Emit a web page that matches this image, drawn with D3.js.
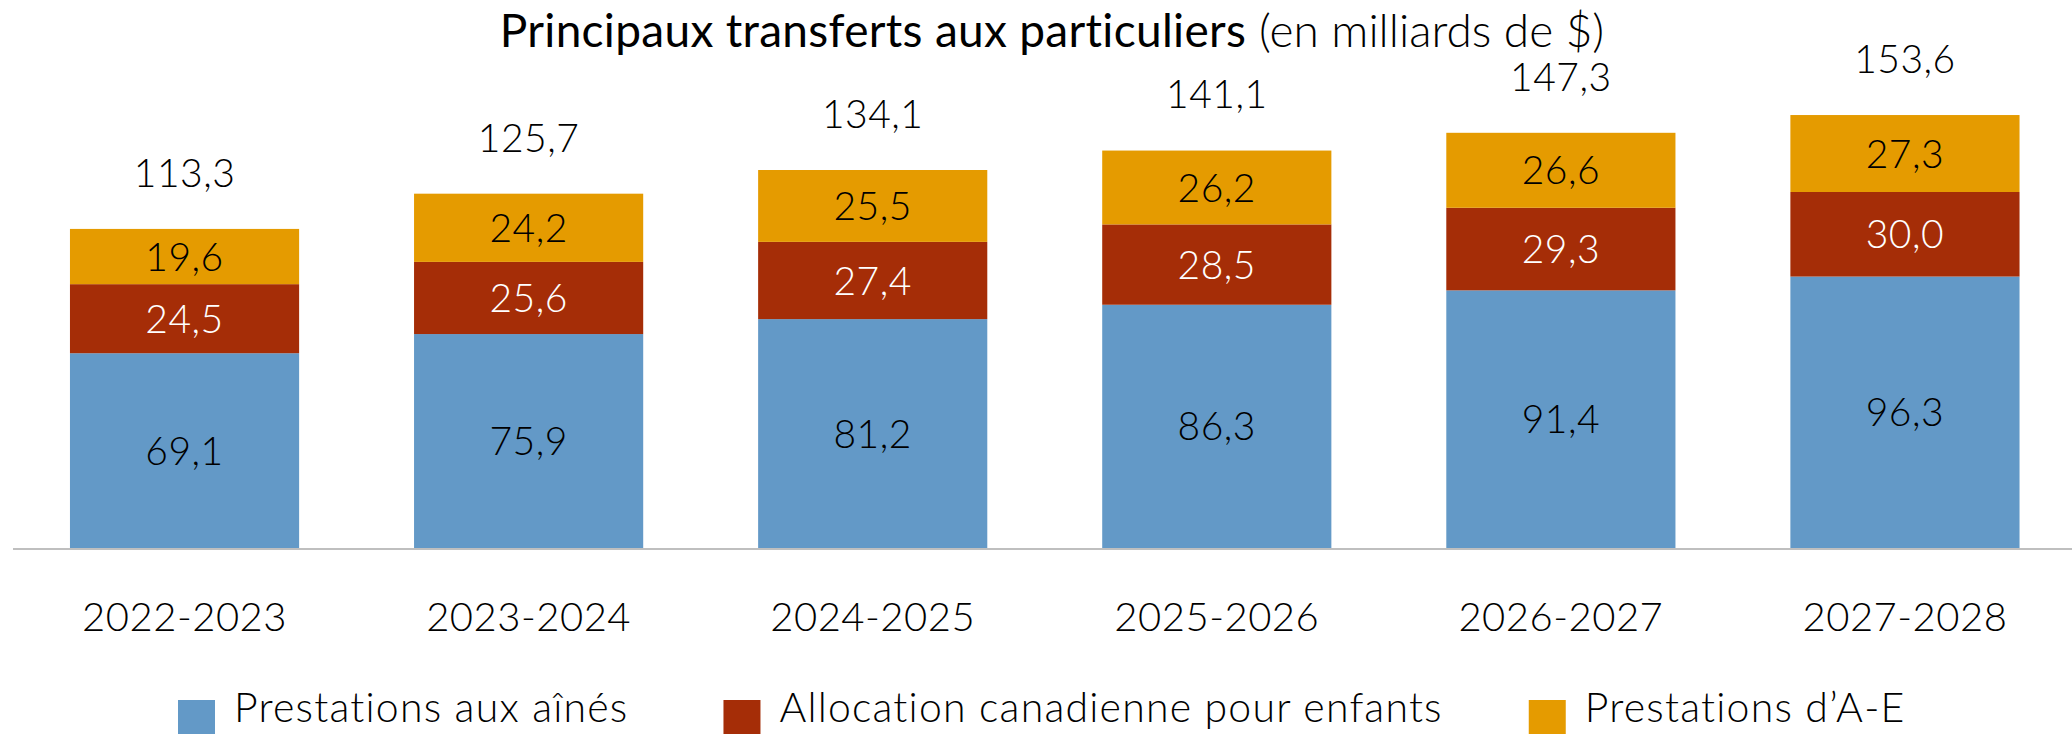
<!DOCTYPE html>
<html>
<head>
<meta charset="utf-8">
<script src="https://cdn.jsdelivr.net/npm/d3@7"></script>
<style>
  body { margin: 0; background: #fff; }
  svg text { font-family: Lato, "Open Sans", sans-serif; }
</style>
</head>
<body>
<div class="chart"></div>
<script>
var years = ["2022-2023", "2023-2024", "2024-2025", "2025-2026", "2026-2027", "2027-2028"];
var seniors = [69.1, 75.9, 81.2, 86.3, 91.4, 96.3];
var childBenefit = [24.5, 25.6, 27.4, 28.5, 29.3, 30.0];
var eiBenefits = [19.6, 24.2, 25.5, 26.2, 26.6, 27.3];
var totals = [113.3, 125.7, 134.1, 141.1, 147.3, 153.6];

var seriesNames = ["Prestations aux aînés", "Allocation canadienne pour enfants", "Prestations d\u2019A-E"];
var seriesColors = ["#6399C7", "#A52D07", "#E59B00"];
var labelColors = ["#000", "#fff", "#000"];

var width = 2072,
    height = 734;

var svg = d3.select(".chart").append("svg")
    .attr("width", width)
    .attr("height", height);

var keys = ["seniors", "child", "ei"];
var table = years.map(function(y, i) {
    return { year: y, seniors: seniors[i], child: childBenefit[i], ei: eiBenefits[i], total: totals[i] };
});

var x = d3.scaleBand()
    .domain(years)
    .range([12.5, 2077])
    .paddingInner(0.334)
    .paddingOuter(0.167);

var y = d3.scaleLinear()
    .domain([0, 160])
    .range([548, 97]);

var fmt = d3.formatLocale({ decimal: ",", thousands: " ", grouping: [3], currency: ["", " $"] }).format(".1f");

var stacked = d3.stack().keys(keys)(table);

var layers = svg.selectAll("g.layer")
    .data(stacked)
    .enter().append("g")
    .attr("class", "layer")
    .attr("fill", function(d, i) { return seriesColors[i]; });

layers.selectAll("rect")
    .data(function(d) { return d; })
    .enter().append("rect")
    .attr("x", function(d) { return x(d.data.year); })
    .attr("y", function(d) { return y(d[1]); })
    .attr("width", x.bandwidth())
    .attr("height", function(d) { return y(d[0]) - y(d[1]); });

// segment labels
layers.each(function(layer, li) {
    d3.select(this).selectAll("text")
        .data(layer)
        .enter().append("text")
        .attr("x", function(d) { return x(d.data.year) + x.bandwidth() / 2; })
        .attr("y", function(d) { return (y(d[0]) + y(d[1])) / 2; })
        .attr("dy", "0.36em")
        .attr("text-anchor", "middle")
        .style("font-size", "39px")
        .style("font-weight", "300")
        .style("letter-spacing", "0.5px")
        .style("fill", labelColors[li])
        .text(function(d) { return fmt(d[1] - d[0]); });
});

// totals
svg.selectAll("text.total")
    .data(table)
    .enter().append("text")
    .attr("class", "total")
    .attr("x", function(d) { return x(d.year) + x.bandwidth() / 2; })
    .attr("y", function(d) { return y(d.total) - 42; })
    .attr("text-anchor", "middle")
    .style("font-size", "39px")
    .style("font-weight", "300")
    .style("letter-spacing", "0.5px")
    .style("fill", "#000")
    .text(function(d) { return fmt(d.total); });

// baseline axis
svg.append("line")
    .attr("x1", 13).attr("x2", 2072)
    .attr("y1", y(0) + 1).attr("y2", y(0) + 1)
    .attr("stroke", "#BFBFBF")
    .attr("stroke-width", 2);

svg.selectAll("text.cat")
    .data(years)
    .enter().append("text")
    .attr("class", "cat")
    .attr("x", function(d) { return x(d) + x.bandwidth() / 2; })
    .attr("y", 631)
    .attr("text-anchor", "middle")
    .style("font-size", "40px")
    .style("font-weight", "300")
    .style("letter-spacing", "0.5px")
    .style("fill", "#000")
    .text(function(d) { return d; });

// title
var t1 = svg.append("text")
    .attr("y", 47)
    .style("font-size", "46px")
    .style("font-weight", "400")
    .style("letter-spacing", "0.3px")
    .text("Principaux transferts aux particuliers");
var t2 = svg.append("text")
    .attr("y", 47)
    .style("font-size", "46px")
    .style("font-weight", "300")
    .text("(en milliards de $)");
var w1 = t1.node().getComputedTextLength(),
    w2 = t2.node().getComputedTextLength();
var tx = 1052 - (w1 + 13 + w2) / 2;
t1.attr("x", tx);
t2.attr("x", tx + w1 + 13);

// legend
var legend = svg.append("g");
var lx = 0;
var legendGap = [95, 86];
seriesNames.forEach(function(name, i) {
    var g = legend.append("g").attr("transform", "translate(" + lx + ",0)");
    g.append("rect")
        .attr("x", 0).attr("y", 700)
        .attr("width", 37).attr("height", 37)
        .attr("fill", seriesColors[i]);
    var t = g.append("text")
        .attr("x", 56).attr("y", 722)
        .style("font-size", "41px")
        .style("font-weight", "300")
        .style("letter-spacing", "1.2px")
        .text(name);
    lx += 56 + t.node().getComputedTextLength() + (legendGap[i] || 0);
});
legend.attr("transform", "translate(178,0)");
</script>
</body>
</html>
